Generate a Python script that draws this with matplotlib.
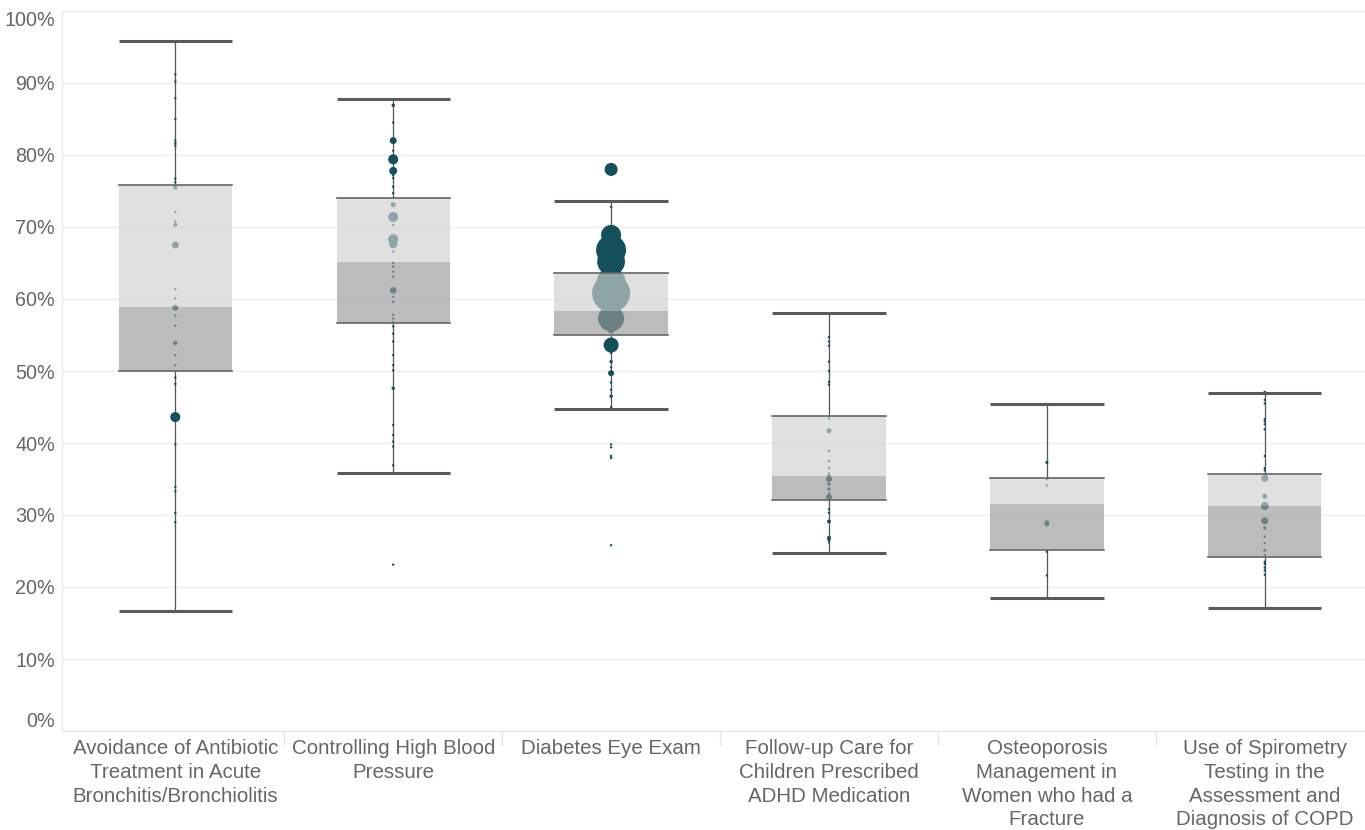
import matplotlib
matplotlib.use('Agg')
import matplotlib.pyplot as plt
import matplotlib.transforms as mtransforms

CATEGORIES = ['Avoidance of Antibiotic\nTreatment in Acute\nBronchitis/Bronchiolitis',
              'Controlling High Blood\nPressure',
              'Diabetes Eye Exam',
              'Follow-up Care for\nChildren Prescribed\nADHD Medication',
              'Osteoporosis\nManagement in\nWomen who had a\nFracture',
              'Use of Spirometry\nTesting in the\nAssessment and\nDiagnosis of COPD']

# box plot statistics (%): lower whisker, Q1, median, Q3, upper whisker
WHISK_LO = [16.7, 35.8, 44.7, 24.7, 18.5, 17.1]
Q1 = [50.0, 56.7, 55.0, 32.1, 25.1, 24.2]
MEDIAN = [58.9, 65.1, 58.3, 35.4, 31.5, 31.25]
Q3 = [75.8, 74.0, 63.6, 43.75, 35.1, 35.7]
WHISK_HI = [95.8, 87.8, 73.6, 58.1, 45.4, 46.9]

# individual plans: rate (%) and size weight
RATES = [
    [91.2, 90.2, 87.9, 85.0, 82.0, 81.6, 81.3, 76.7, 76.2, 75.5, 72.1, 70.75, 70.3, 67.5, 61.4,
     60.1, 58.8, 57.7, 56.3, 53.9, 52.2, 50.8, 49.1, 48.2, 43.6, 39.8, 33.9, 33.3, 30.3, 29.0],
    [86.9, 84.5, 82.0, 80.6, 79.4, 77.8, 77.2, 76.8, 75.6, 74.7, 73.1, 71.4, 70.3, 68.3, 67.6,
     66.6, 65.0, 64.5, 63.8, 63.1, 61.2, 60.3, 59.6, 57.8, 57.3, 56.8, 56.2, 55.2, 54.1, 52.2,
     50.8, 50.1, 47.6, 42.5, 41.1, 40.2, 39.5, 36.9, 23.1],
    [78.0, 72.8, 68.9, 66.8, 65.2, 62.4, 60.8, 57.3, 55.7, 53.6, 52.5, 51.3, 50.5, 49.7, 48.4,
     47.4, 46.5, 45.0, 39.8, 39.4, 38.2, 37.9, 25.8],
    [54.7, 54.1, 53.5, 51.3, 50.0, 48.5, 48.1, 43.4, 41.7, 38.9, 37.5, 36.5, 35.8, 35.5, 35.0,
     34.3, 33.6, 33.0, 32.5, 30.8, 30.3, 29.1, 26.85, 26.6, 26.2],
    [37.3, 35.0, 34.1, 28.9, 28.7, 24.9, 21.6],
    [47.1, 46.0, 45.5, 43.3, 43.0, 42.6, 41.9, 38.2, 36.5, 36.2, 35.1, 32.6, 31.25, 29.2, 28.2,
     27.0, 26.1, 25.1, 24.4, 23.5, 23.2, 22.7, 22.3, 21.7],
]
WEIGHTS = [
    [3, 3, 3, 3, 3, 3, 3, 3, 3, 8, 3, 3, 8, 25, 3, 3, 19, 3, 3, 10, 3, 3, 3, 3, 52, 3, 3, 3, 3, 3],
    [6, 3, 25, 3, 52, 33, 3, 3, 3, 3, 13, 52, 3, 52, 33, 3, 3, 3, 3, 3, 22, 3, 3, 3, 3, 3, 3, 3,
     3, 3, 3, 3, 6, 3, 3, 3, 3, 3, 3],
    [88, 3, 207, 466, 400, 420, 748, 350, 25, 117, 3, 6, 3, 19, 3, 3, 6, 3, 3, 3, 3, 3, 3],
    [3, 3, 3, 3, 3, 3, 3, 3, 13, 3, 3, 3, 3, 6, 19, 6, 6, 3, 19, 3, 3, 8, 8, 6, 3],
    [5, 3, 3, 13, 8, 3, 3],
    [3, 3, 3, 3, 3, 3, 3, 3, 3, 3, 25, 13, 33, 25, 6, 3, 3, 5, 3, 3, 3, 3, 3, 3],
]
YTICKS = [0, 10, 20, 30, 40, 50, 60, 70, 80, 90, 100]

TEXT = '#666666'
DOT = '#14505b'
plt.rcParams['font.family'] = ['Liberation Sans', 'DejaVu Sans']

fig = plt.figure(figsize=(13.65, 8.30), dpi=100)
ax = fig.add_axes([62 / 1365, 99 / 830, 1303 / 1365, 720 / 830])
ax.set_xlim(-0.52, 5.46)
ax.set_ylim(0, 100)

half = 0.26
for i in range(len(CATEGORIES)):
    # whisker stems outside the box
    ax.plot([i, i], [Q3[i], WHISK_HI[i]], color='#555555', lw=0.9, zorder=2)
    ax.plot([i, i], [WHISK_LO[i], Q1[i]], color='#555555', lw=0.9, zorder=2)
    # dots
    ax.scatter([i] * len(RATES[i]), RATES[i], s=WEIGHTS[i], color=DOT, linewidths=0, zorder=3)
    # box bands drawn over dots
    ax.fill_between([i - half, i + half], MEDIAN[i], Q3[i], color='#d0d0d0', alpha=0.66,
                    linewidth=0, zorder=4)
    ax.fill_between([i - half, i + half], Q1[i], MEDIAN[i], color='#9a9a9a', alpha=0.66,
                    linewidth=0, zorder=4)
    for v in (Q1[i], Q3[i]):
        ax.plot([i - half, i + half], [v, v], color='#666666', lw=1.2, zorder=5)
    for v in (WHISK_LO[i], WHISK_HI[i]):
        ax.plot([i - half, i + half], [v, v], color='#5a5a5a', lw=2.2, zorder=5,
                solid_capstyle='butt')

# grid and frame
for t in YTICKS:
    ax.axhline(t, color='#efefef', lw=1, zorder=0)
for s in ['top', 'right']:
    ax.spines[s].set_visible(False)
ax.spines['left'].set_color('#e6e6e6')
ax.spines['bottom'].set_color('#e6e6e6')

# column dividers below the axis
trans = mtransforms.blended_transform_factory(ax.transData, ax.transAxes)
for b in [0.5, 1.5, 2.5, 3.5, 4.5]:
    ax.plot([b, b], [0, -0.02], color='#e6e6e6', lw=1, transform=trans, clip_on=False)

ax.set_yticks(YTICKS)
ax.set_yticklabels([f'{t}%' for t in YTICKS])
ax.set_xticks(range(len(CATEGORIES)))
ax.set_xticklabels(CATEGORIES, linespacing=1.31)
ax.tick_params(length=0, labelcolor=TEXT)
ax.tick_params(axis='x', pad=6, labelsize=14.8)
ax.tick_params(axis='y', pad=5, labelsize=14.2)
ticks = ax.yaxis.get_major_ticks()
ticks[0].label1.set_va('bottom')
ticks[-1].label1.set_va('top')

fig.savefig('out.png', dpi=100)
